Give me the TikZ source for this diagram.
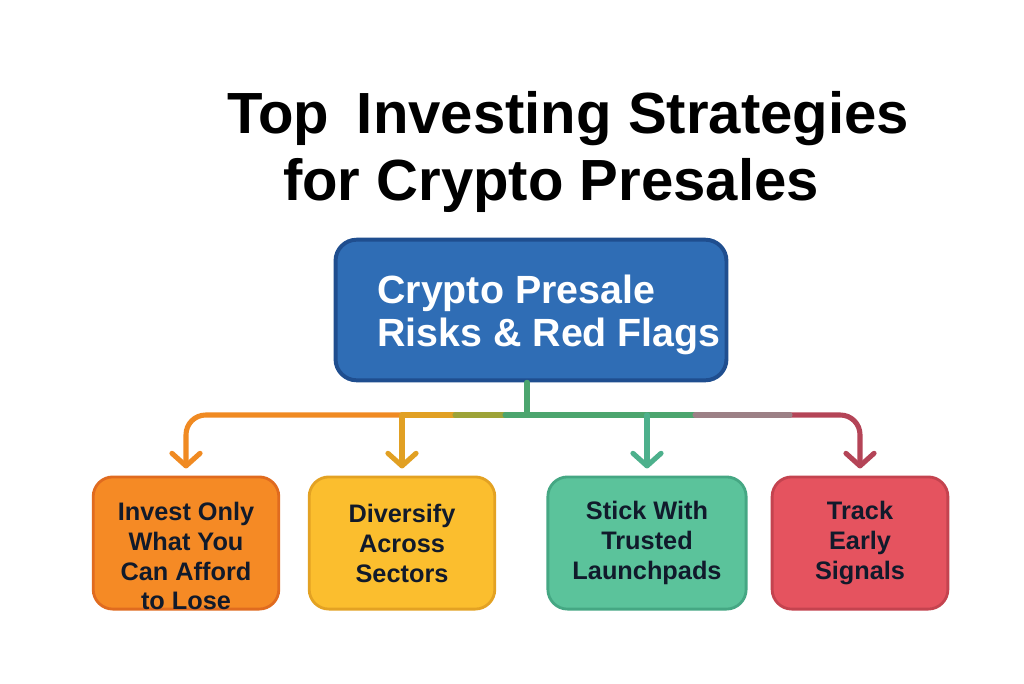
\documentclass[tikz,border=0pt]{standalone}
\usepackage{fontspec}
\setmainfont{Liberation Sans}
\usetikzlibrary{arrows.meta}

\definecolor{ink}{HTML}{111A2B}
\definecolor{blueF}{HTML}{2F6DB5}
\definecolor{blueD}{HTML}{1F4E8F}
\definecolor{orangeF}{HTML}{F58A25}
\definecolor{orangeD}{HTML}{E06B1F}
\definecolor{amberF}{HTML}{FBBE2E}
\definecolor{amberD}{HTML}{E3A223}
\definecolor{greenF}{HTML}{5BC39B}
\definecolor{greenD}{HTML}{45A783}
\definecolor{redF}{HTML}{E5535F}
\definecolor{redD}{HTML}{C4434F}
\definecolor{lnOrange}{HTML}{F08A22}
\definecolor{lnAmber}{HTML}{E1A023}
\definecolor{lnOlive}{HTML}{9DA338}
\definecolor{lnGreen}{HTML}{4CA56E}
\definecolor{lnTeal}{HTML}{4DB08C}
\definecolor{lnMauve}{HTML}{9C8086}
\definecolor{lnRed}{HTML}{B44457}

\tikzset{
  titletext/.style={anchor=base, inner sep=0pt, text=black,
    font=\bfseries\fontsize{41.3}{49}\selectfont},
  maintext/.style={align=left, inner sep=0pt, text=white,
    font=\bfseries\fontsize{28}{31}\selectfont},
  stratbox/.style={draw, rounded corners=14pt, line width=2pt, minimum height=94pt},
  stbtext/.style={align=center, inner sep=0pt, text=ink,
    font=\bfseries\fontsize{18}{21.3}\selectfont},
  branch/.style={line width=3.6pt, line cap=round},
  drop/.style={branch, -{Straight Barb[length=9pt,width=20pt,round]}, shorten >=5pt},
}

\begin{document}
\begin{tikzpicture}[x=0.025cm, y=-0.025cm]
    \useasboundingbox[fill=white] (0,0) rectangle (1024,683);

    % title
    \node[titletext] (title1) at (568,133) {Top\hspace{0.2em} Investing Strategies};
    \node[titletext] (title2) at (551,200) {for Crypto Presales};

    % central box
    \node[draw=blueD, fill=blueF, rounded corners=15pt, line width=2.8pt,
          minimum width=278pt, minimum height=100pt] (risks) at (531,310) {};
    \node[maintext, anchor=west] (riskstext) at (377,315) {Crypto Presale\\Risks \& Red Flags};

    % strategy boxes
    \node[stratbox, draw=orangeD, fill=orangeF, minimum width=132pt] (invest) at (186,543) {};
    \node[stratbox, draw=amberD, fill=amberF, minimum width=132pt] (diversify) at (402,543) {};
    \node[stratbox, draw=greenD, fill=greenF, minimum width=141pt] (stick) at (647,543) {};
    \node[stratbox, draw=redD, fill=redF, minimum width=125pt] (track) at (860,543) {};

    \node[stbtext] (investtext) at (186,556) {Invest Only\\What You\\Can Afford\\to Lose};
    \node[stbtext] (diversifytext) at (402,543) {Diversify\\Across\\Sectors};
    \node[stbtext] (sticktext) at (647,543) {Stick With\\Trusted\\Launchpads};
    \node[stbtext] (tracktext) at (860,543) {Track\\Early\\Signals};

    % connectors
    \coordinate (hub) at (527,415);
    \coordinate (warm) at (455,415);
    \coordinate (cool) at (505,415);
    \coordinate (fadeA) at (695,415);
    \coordinate (fadeB) at (790,415);

    \draw[branch, lnGreen] (risks.south -| hub) -- (hub);
    \draw[drop, lnRed, rounded corners=14pt] (hub) -| (track.north);
    \draw[drop, lnOrange, rounded corners=14pt] (hub) -| (invest.north);
    \draw[branch, lnAmber] (diversify.north |- hub) -- (warm);
    \draw[branch, lnOlive] (warm) -- (cool);
    \draw[branch, lnGreen] (cool) -- (fadeA);
    \draw[branch, lnMauve] (fadeA) -- (fadeB);
    \draw[drop, lnAmber] (diversify.north |- hub) -- (diversify.north);
    \draw[drop, lnTeal] (stick.north |- hub) -- (stick.north);
\end{tikzpicture}
\end{document}
